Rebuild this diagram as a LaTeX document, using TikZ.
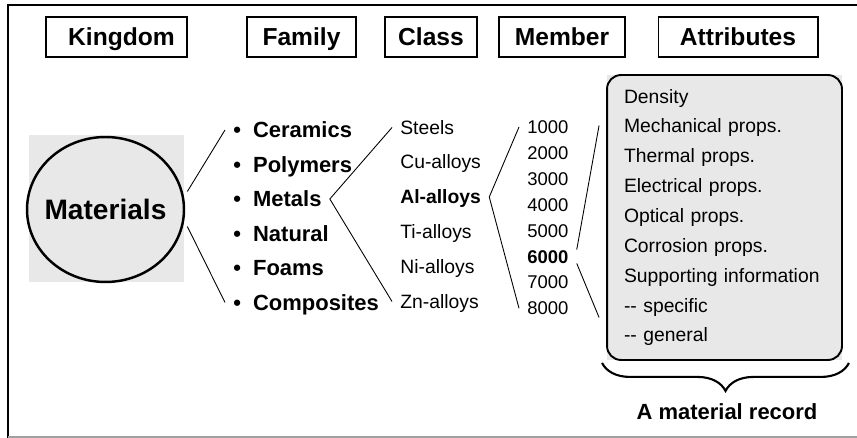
\documentclass[tikz,border=0pt]{standalone}
\usepackage{fontspec}
\setmainfont{Liberation Sans}
\usepackage{xcolor}
\definecolor{PanelGray}{HTML}{E8E8E8}
\definecolor{FrameGray}{HTML}{A0A0A0}
\usepackage{tikz}
\usetikzlibrary{shapes.geometric, decorations.pathreplacing}
\tikzset{
  % Box styles
  headbox/.style={rectangle, draw=black, line width=0.6pt, minimum height=0.8cm, inner sep=0pt, text height=10pt, text depth=0pt, font=\fontsize{14}{16}\selectfont\bfseries},
  panel/.style={rectangle, fill=PanelGray, inner sep=0pt},
  kingdomnode/.style={ellipse, draw=black, line width=1.4pt, fill=PanelGray, inner sep=0pt, minimum width=3.14cm, minimum height=2.9cm, text height=11.5pt, text depth=0pt, font=\fontsize{16}{18}\selectfont\bfseries},
  recordbox/.style={rectangle, rounded corners=8pt, draw=black, line width=1.1pt, fill=PanelGray, minimum width=4.7cm, minimum height=5.7cm, inner xsep=0.34cm, text width=4.02cm, align=left, font=\fontsize{11}{17}\selectfont},
  % Text styles
  familyitem/.style={anchor=west, inner xsep=0.16cm, inner ysep=0pt, text height=9pt, text depth=0pt, font=\fontsize{12.5}{15}\selectfont\bfseries},
  classitem/.style={anchor=west, inner xsep=0.16cm, inner ysep=0pt, text height=7.9pt, text depth=0pt, font=\fontsize{11}{13}\selectfont},
  memberitem/.style={anchor=west, inner xsep=0.16cm, inner ysep=0pt, text height=7.5pt, text depth=0pt, font=\fontsize{10.5}{12}\selectfont},
  % Line styles
  link/.style={draw=black, line width=0.5pt},
  bracestyle/.style={draw=black, line width=1.2pt, decorate, decoration={brace, amplitude=0.56cm}}
}

\begin{document}
\begin{tikzpicture}[x=0.02cm, y=-0.02cm]
  \useasboundingbox (0,0) rectangle (857,438);
  % Frame
  \draw[line width=1pt] (8,438) -- (8,5) -- (857,5);
  \draw[FrameGray, line width=0.8pt] (8,437) -- (857,437);

  % Column headers
  \node[headbox, minimum width=2.82cm] (kingdom) at (116.5,37) {\hspace{0.2cm}Kingdom};
  \node[headbox, minimum width=2.18cm] (family) at (301.5,37) {Family};
  \node[headbox, minimum width=1.84cm] (class) at (431,37) {Class};
  \node[headbox, minimum width=2.52cm] (member) at (562,37) {Member};
  \node[headbox, minimum width=3.2cm] (attributes) at (738,37) {Attributes};

  % Kingdom
  \node[panel, minimum width=3.1cm, minimum height=2.94cm] (matpanel) at (106.5,208.5) {};
  \node[kingdomnode] (materials) at (105.5,209.5) {\makebox[0pt]{Materials}};

  % Families
  \node[familyitem] (ceramics) at (225,130) {\textbullet\hspace{0.55em}Ceramics};
  \node[familyitem] (polymers) at (225,164.5) {\textbullet\hspace{0.55em}Polymers};
  \node[familyitem] (metals) at (225,199) {\textbullet\hspace{0.55em}Metals};
  \node[familyitem] (natural) at (225,233.5) {\textbullet\hspace{0.55em}Natural};
  \node[familyitem] (foams) at (225,268) {\textbullet\hspace{0.55em}Foams};
  \node[familyitem] (composites) at (225,302.5) {\textbullet\hspace{0.55em}Composites};

  % Classes
  \node[classitem] (steels) at (392,127.5) {Steels};
  \node[classitem] (cualloys) at (392,162) {Cu-alloys};
  \node[classitem] (alalloys) at (392,197) {\bfseries Al-alloys};
  \node[classitem] (tialloys) at (392,232) {Ti-alloys};
  \node[classitem] (nialloys) at (392,267) {Ni-alloys};
  \node[classitem] (znalloys) at (392,301.5) {Zn-alloys};

  % Members
  \node[memberitem] (m1000) at (519,127) {1000};
  \node[memberitem] (m2000) at (519,152.9) {2000};
  \node[memberitem] (m3000) at (519,178.8) {3000};
  \node[memberitem] (m4000) at (519,204.7) {4000};
  \node[memberitem] (m5000) at (519,230.6) {5000};
  \node[memberitem] (m6000) at (519,256.5) {\bfseries 6000};
  \node[memberitem] (m7000) at (519,282.4) {7000};
  \node[memberitem] (m8000) at (519,308.3) {8000};

  % Attributes
  \node[panel, minimum width=4.7cm, minimum height=5.7cm] (recpanel) at (724.5,217.5) {};
  \node[recordbox] (record) at (724.5,217.5) {Density\\Mechanical props.\\Thermal props.\\Electrical props.\\Optical props.\\Corrosion props.\\Supporting information\\-{}- specific\\-{}- general};

  % Connectors
  \draw[link] ([shift={(3,-17)}]matpanel.east) -- (ceramics.west);
  \draw[link] ([shift={(3,18)}]matpanel.east) -- (composites.west);
  \draw[link] (steels.west) -- (metals.east) -- (znalloys.west);
  \draw[link] (m1000.west) -- (alalloys.east) -- (m8000.west);
  \draw[link] (m6000.north east) -- ([shift={(-7,-92)}]record.west);
  \draw[link] (m6000.south east) -- ([shift={(-7,100)}]record.west);

  % Record brace
  \draw[bracestyle] ([shift={(6,2)}]record.south east) -- ([shift={(-4,2)}]record.south west);
  \node[font=\fontsize{12.5}{15}\selectfont\bfseries] (reclabel) at (727,412) {A material record};
\end{tikzpicture}
\end{document}
